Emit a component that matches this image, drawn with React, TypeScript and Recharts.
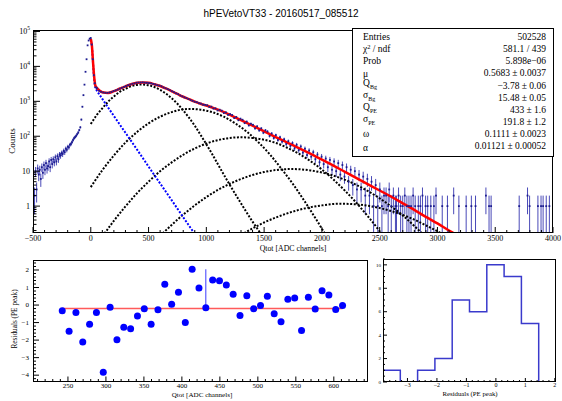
import React from 'react';
import { ComposedChart, Line, Scatter, XAxis, YAxis, ErrorBar } from 'recharts';

const SERIF = "'Liberation Serif', 'Times New Roman', serif";
const SANS = "'Liberation Sans', Arial, sans-serif";
const TITLE = 'hPEVetoVT33 - 20160517_085512';

// ---------- top panel: Qtot histogram (bin width 9) ----------
const HIST_LOW_START = -495.5;
const HIST_LOW_STEP = 9;
const histLowCounts = [
  9, 2, 10, 3, 12, 8, 11, 6, 13, 9,
  15, 11, 17, 12, 14, 19, 13, 21, 16, 22,
  18, 25, 19, 27, 22, 30, 28, 33, 31, 38,
  35, 44, 41, 50, 48, 57, 60, 68, 78, 88,
  95, 103, 115, 128, 150, 180, 300, 700, 1500, 3000,
  7000, 16000, 40000, 55000, 62000, 65000, 42000, 16000, 5600, 3300,
  2500,
];
const HIST_MID_START = 53.5;
const HIST_MID_STEP = 18;
const histMidCounts = [
  2380, 2010, 1880, 1790, 1760, 1750, 1790, 1850, 1970, 2060,
  2170, 2310, 2440, 2600, 2730, 2900, 3010, 3180, 3230, 3400,
  3450, 3460, 3490, 3420, 3400, 3330, 3260, 3150, 3040, 2900,
  2830, 2700, 2490, 2360, 2230, 2100, 1940, 1830, 1690, 1600,
  1470, 1390, 1300, 1240, 1160, 1090, 1030, 970, 945, 880,
  860, 800, 790, 770, 690, 705, 620, 628, 548, 575,
  540, 462, 482, 410, 430, 405, 332, 356, 288, 318,
  296, 238, 262, 205, 228, 212, 168, 192, 147, 168,
  126, 148, 136, 102, 120, 89, 108, 78, 94, 70,
  82, 60, 72, 53, 64, 45, 57, 40, 51, 34,
  44, 29, 39, 26, 35, 22, 30, 18, 26, 16,
  23, 13, 21, 11, 19, 10, 17, 8, 15, 7,
  13, 5, 11, 4, 10, 3, 8, 3, 7, 2,
  6, 2, 5, 1, 4, 1, 3, 1, 2,
];
const histTailX = [
  2555.5, 2573.5, 2582.5, 2600.5, 2618.5, 2636.5, 2645.5, 2663.5, 2681.5, 2699.5,
  2717.5, 2735.5, 2753.5, 2771.5, 2789.5, 2807.5, 2834.5, 2852.5, 2870.5, 2897.5,
  2915.5, 2942.5, 2969.5, 2987.5, 3041.5, 3086.5, 3140.5, 3185.5, 3248.5, 3293.5,
  3329.5, 3419.5, 3446.5, 3464.5, 3707.5, 3779.5, 3797.5, 3869.5, 3896.5, 3914.5,
  3941.5, 3968.5,
];
const histTailCounts = [
  2, 1, 3, 1, 2, 1, 1, 2, 1, 1,
  2, 1, 1, 1, 2, 1, 1, 1, 2, 1,
  1, 1, 1, 2, 1, 1, 2, 1, 1, 1,
  1, 2, 1, 1, 1, 2, 1, 1, 1, 1,
  1, 1,
];

// total fit (red)
const fitX = [0, 10, 20, 30, 40, 50, 75, 100, 150, 200, 250, 300, 350, 400, 450, 500, 550, 600, 650, 700,
  750, 800, 850, 900, 950, 1000, 1100, 1200, 1300, 1400, 1500, 1600, 1700, 1800, 1900, 2000, 2100, 2200,
  2300, 2400, 2500, 2600, 2700, 2800, 2900, 3000, 3100, 3200];
const fitY = [61700, 38000, 12500, 4800, 2800, 2490, 2050, 1820, 1740, 1950, 2290, 2690, 3090, 3390, 3470,
  3390, 3090, 2750, 2340, 1950, 1620, 1350, 1150, 980, 850, 760, 575, 417, 288, 200, 138, 95, 66, 46,
  31.6, 21.4, 14.5, 9.5, 6.3, 4.2, 2.8, 1.86, 1.2, 0.78, 0.49, 0.32, 0.2, 0.13];

// background (blue dotted)
const bgX = [0, 10, 20, 30, 40, 50, 100, 200, 300, 400, 500, 600, 700, 800, 900];
const bgY = [58900, 36500, 11500, 4000, 2400, 2090, 1175, 380, 126, 41.7, 13.5, 4.47, 1.48, 0.48, 0.16];

// n-photoelectron components (black dotted)
const pe1X = [0, 50, 100, 150, 200, 250, 300, 350, 433, 500, 550, 600, 650, 700, 750, 800, 850, 900, 950,
  1000, 1050, 1100, 1150, 1200, 1300, 1400, 1500];
const pe1Y = [224, 398, 631, 977, 1380, 1860, 2290, 2690, 3020, 2880, 2570, 2140, 1660, 1230, 851, 550,
  339, 200, 110, 59, 31, 15.8, 8.1, 4.2, 1.2, 0.36, 0.12];
const pe2X = [0, 100, 200, 300, 400, 500, 600, 700, 800, 866, 950, 1050, 1150, 1250, 1350, 1450, 1550,
  1650, 1750, 1850, 1950, 2050];
const pe2Y = [3.5, 10.7, 28.2, 66, 132, 234, 363, 490, 589, 603, 575, 490, 363, 234, 135, 67.6, 30.2,
  11.7, 4.27, 1.38, 0.42, 0.12];
const pe3X = [100, 200, 300, 400, 500, 600, 700, 800, 900, 1000, 1100, 1200, 1300, 1400, 1500, 1600,
  1700, 1800, 1900, 2000, 2100, 2200, 2300, 2400, 2500, 2550];
const pe3Y = [0.135, 0.38, 0.98, 2.34, 5.0, 10, 17.8, 29.5, 44.7, 61.7, 77.6, 89.1, 93.3, 89.1, 79.4,
  64.6, 46.8, 31.6, 19.5, 11.2, 5.75, 2.75, 1.23, 0.5, 0.19, 0.11];
const pe4X = [600, 700, 800, 900, 1000, 1100, 1200, 1300, 1400, 1500, 1600, 1732, 1800, 1900, 2000,
  2100, 2200, 2300, 2400, 2500, 2600, 2700, 2800, 2900];
const pe4Y = [0.14, 0.29, 0.57, 1.05, 1.81, 2.9, 4.3, 5.96, 7.78, 9.45, 10.76, 11.5, 11.35, 10.5, 9.16,
  7.44, 5.66, 4.02, 2.68, 1.67, 0.98, 0.54, 0.27, 0.13];
const pe5X = [1300, 1400, 1500, 1600, 1700, 1800, 1900, 2000, 2100, 2165, 2300, 2400, 2500, 2600, 2700,
  2800, 2900, 3000, 3100];
const pe5Y = [0.148, 0.23, 0.34, 0.47, 0.62, 0.78, 0.93, 1.05, 1.15, 1.17, 1.12, 1.02, 0.88, 0.72, 0.56,
  0.41, 0.28, 0.19, 0.12];

// ---------- bottom-left: residuals ----------
const resX = [242.5, 251.5, 260.5, 269.5, 278.5, 287.5, 296.5, 305.5, 314.5, 323.5, 332.5, 341.5, 350.5,
  359.5, 368.5, 377.5, 386.5, 395.5, 404.5, 413.5, 422.5, 431.5, 440.5, 449.5, 458.5, 467.5, 476.5,
  485.5, 494.5, 503.5, 512.5, 521.5, 530.5, 539.5, 548.5, 557.5, 566.5, 575.5, 584.5, 593.5, 602.5, 611.5];
const resY = [-0.33, -1.49, -0.42, -2.11, -1.09, -0.42, -3.83, -0.13, -1.98, -1.27, -1.35, -0.63, -0.21,
  -1.09, -0.27, 1.18, 0.04, 0.73, -0.99, 2.04, 0.97, -0.15, 1.43, 1.39, 1.14, 0.61, -0.59, 0.53, -0.21,
  -0.02, 0.5, -0.5, -0.95, 0.33, 0.4, -1.45, 0.44, -0.23, 0.82, 0.57, -0.25, -0.02];
const resErrUp = [0, 0, 0, 0, 0, 0, 0, 0, 0, 0, 0, 0, 0, 0, 0, 0, 0, 0, 0, 0, 0, 2.19, 0, 0, 0, 0, 0, 0,
  0, 0, 0, 0, 0, 0, 0, 0, 0, 0, 0, 0, 0, 0];
const resFitX = [242.5, 611.5];
const resFitY = [-0.19, -0.19];

// ---------- bottom-right: residual distribution ----------
const resHistMin = -3.83;
const resHistMax = 2.04;
const resHistCounts = [1, 0, 1, 2, 7, 6, 10, 9, 5, 0];

// ---------- stats box ----------
const statsValues = ['502528', '581.1 / 439', '5.898e\u221206', '0.5683 \u00b1 0.0037', '\u22123.78 \u00b1 0.06',
  '15.48 \u00b1 0.05', '433 \u00b1 1.6', '191.8 \u00b1 1.2', '0.1111 \u00b1 0.0023', '0.01121 \u00b1 0.00052'];

// ---------- derived tables ----------
const Y_MIN = 0.17;
const histData: any[] = [];
histLowCounts.forEach((c, i) => histData.push({ x: HIST_LOW_START + i * HIST_LOW_STEP, c }));
histMidCounts.forEach((c, i) => histData.push({ x: HIST_MID_START + i * HIST_MID_STEP, c }));
histTailX.forEach((x, i) => histData.push({ x, c: histTailCounts[i] }));
histData.forEach((d) => {
  const s = Math.sqrt(d.c);
  const lo = Math.max(d.c - s, Y_MIN);
  d.y = d.c;
  d.err = [d.c - lo, s];
});

const zip = (xs: number[], ys: number[]) => xs.map((x, i) => ({ x, y: ys[i] }));
const fitData = zip(fitX, fitY);
const bgData = zip(bgX, bgY);
const peData = [zip(pe1X, pe1Y), zip(pe2X, pe2Y), zip(pe3X, pe3Y), zip(pe4X, pe4Y), zip(pe5X, pe5Y)];
const resData = resX.map((x, i) => ({ x, y: resY[i], err: [0, resErrUp[i]] }));
const resFitData = zip(resFitX, resFitY);
const binW = (resHistMax - resHistMin) / resHistCounts.length;
const resHistData = resHistCounts.map((c, i) => ({ x: resHistMin + i * binW, y: c }));
resHistData.push({ x: resHistMax, y: 0 });

const range = (a: number, b: number, s: number) => {
  const out: number[] = [];
  for (let v = a; v <= b + 1e-9; v += s) out.push(Math.round(v * 1000) / 1000);
  return out;
};
const topXTicks = range(-500, 4000, 100);
const topYTicks: number[] = [];
for (let d = -1; d <= 5; d++) for (let m = 1; m <= 9; m++) {
  const v = m * Math.pow(10, d);
  if (v >= Y_MIN && v <= 110000) topYTicks.push(Number(v.toPrecision(3)));
}
const blXTicks = range(210, 640, 10);
const blYTicks = range(-4.2, 2.4, 0.2);
const brXTicks = range(-3.8, 2.0, 0.2);
const brYTicks = range(0, 10.5, 0.5);

const fmt = (v: number) => (v < 0 ? '\u2212' + Math.abs(v) : String(v));
const near = (v: number, s: number) => Math.abs(v / s - Math.round(v / s)) < 1e-6;

const xTick = (step: number, maj: number, min: number, fs: number, dy: number) => (p: any) => {
  const v = p.payload.value;
  const isMaj = near(v, step);
  return (
    <g>
      <line x1={p.x} x2={p.x} y1={p.y} y2={p.y - (isMaj ? maj : min)} stroke="#000" strokeWidth={1} />
      {isMaj && (
        <text x={p.x} y={p.y + dy} textAnchor="middle" fontSize={fs} fontFamily={SERIF} fill="#000">
          {fmt(Math.round(v))}
        </text>
      )}
    </g>
  );
};
const yTick = (step: number, maj: number, min: number, fs: number, dx: number) => (p: any) => {
  const v = p.payload.value;
  const isMaj = near(v, step);
  return (
    <g>
      <line x1={p.x} x2={p.x + (isMaj ? maj : min)} y1={p.y} y2={p.y} stroke="#000" strokeWidth={1} />
      {isMaj && (
        <text x={p.x - dx} y={p.y + fs * 0.33} textAnchor="end" fontSize={fs} fontFamily={SERIF} fill="#000">
          {fmt(Math.round(v))}
        </text>
      )}
    </g>
  );
};
const logTick = (p: any) => {
  const v = p.payload.value;
  const lg = Math.log10(v);
  const isMaj = Math.abs(lg - Math.round(lg)) < 1e-6;
  const e = Math.round(lg);
  return (
    <g>
      <line x1={p.x} x2={p.x + (isMaj ? 7 : 3.5)} y1={p.y} y2={p.y} stroke="#000" strokeWidth={1} />
      {isMaj && (
        <text x={p.x - 3} y={p.y + 2.8} textAnchor="end" fontSize={8} fontFamily={SERIF} fill="#000">
          {e === 0 ? '1' : '10'}
          {e > 1 && (
            <tspan dy={-4} fontSize={5.5}>
              {e}
            </tspan>
          )}
        </text>
      )}
    </g>
  );
};

const histMarker = (p: any) => <rect x={p.cx - 0.9} y={p.cy - 0.9} width={1.8} height={1.8} fill="#1c1c90" />;
const resMarker = (p: any) => <circle cx={p.cx} cy={p.cy} r={3.5} fill="#0000ff" />;

const statsLabel = (i: number) => {
  switch (i) {
    case 0: return <>Entries</>;
    case 1: return <>{'\u03c7'}<tspan dy={-3.5} fontSize={6.5}>2</tspan><tspan dy={3.5}>{' / ndf'}</tspan></>;
    case 2: return <>Prob</>;
    case 3: return <>{'\u03bc'}</>;
    case 4: return <>Q<tspan dy={3} fontSize={6}>Bg</tspan></>;
    case 5: return <>{'\u03c3'}<tspan dy={3} fontSize={6}>Bg</tspan></>;
    case 6: return <>Q<tspan dy={3} fontSize={6}>PE</tspan></>;
    case 7: return <>{'\u03c3'}<tspan dy={3} fontSize={6}>PE</tspan></>;
    case 8: return <>{'\u03c9'}</>;
    default: return <>{'\u03b1'}</>;
  }
};
const labelShift = [0, 0, 0, 1, -2.5, -2.5, -2.5, -2.5, 0, 2];

export default function App() {
  const dotted = { strokeWidth: 2, strokeDasharray: '2 1.6', dot: false, isAnimationActive: false } as any;
  return (
    <div style={{ position: 'absolute', left: 0, top: 0, width: 562, height: 401, background: '#fff', overflow: 'hidden' }}>
      <div style={{ position: 'absolute', left: 0, top: 0 }}>
        <ComposedChart width={562} height={255} margin={{ top: 30, right: 9, bottom: 0, left: 0 }}>
          <XAxis type="number" dataKey="x" domain={[-500, 4000]} allowDataOverflow ticks={topXTicks} interval={0}
            tickSize={0} tickMargin={0} axisLine={false} tickLine={false} height={22} tick={xTick(500, 6, 3, 8, 8.3)} />
          <YAxis type="number" dataKey="y" scale="log" domain={[Y_MIN, 110000]} allowDataOverflow ticks={topYTicks}
            interval={0} tickSize={0} tickMargin={0} axisLine={false} tickLine={false} width={33} tick={logTick} />
          <Scatter data={histData} dataKey="y" shape={histMarker} isAnimationActive={false}>
            <ErrorBar dataKey="err" direction="y" width={0} stroke="#4a4ab8" strokeWidth={1} isAnimationActive={false} />
          </Scatter>
          {peData.map((d, i) => (
            <Line key={i} data={d} dataKey="y" type="monotone" stroke="#000" {...dotted} />
          ))}
          <Line data={bgData} dataKey="y" type="monotone" stroke="#0000ff" {...dotted} />
          <Line data={fitData} dataKey="y" type="monotone" stroke="#ff0000" strokeWidth={2.5} dot={false} isAnimationActive={false} />
        </ComposedChart>
      </div>

      <div style={{ position: 'absolute', left: 0, top: 255 }}>
        <ComposedChart width={372} height={146} margin={{ top: 5, right: 4, bottom: 0, left: 0 }}>
          <XAxis type="number" dataKey="x" domain={[204, 645]} allowDataOverflow ticks={blXTicks} interval={0}
            tickSize={0} tickMargin={0} axisLine={false} tickLine={false} height={19} tick={xTick(50, 5.5, 3, 7, 6)} />
          <YAxis type="number" dataKey="y" domain={[-4.39, 2.57]} allowDataOverflow ticks={blYTicks} interval={0}
            tickSize={0} tickMargin={0} axisLine={false} tickLine={false} width={33} tick={yTick(1, 6, 3, 7, 4)} />
          <Line data={resFitData} dataKey="y" stroke="#ff5a5a" strokeWidth={1.5} dot={false} isAnimationActive={false} />
          <Scatter data={resData} dataKey="y" shape={resMarker} isAnimationActive={false}>
            <ErrorBar dataKey="err" direction="y" width={0} stroke="#3b3bff" strokeWidth={1} isAnimationActive={false} />
          </Scatter>
        </ComposedChart>
      </div>

      <div style={{ position: 'absolute', left: 372, top: 255 }}>
        <ComposedChart width={190} height={146} margin={{ top: 4, right: 6, bottom: 0, left: 0 }}>
          <XAxis type="number" dataKey="x" domain={[resHistMin, resHistMax]} allowDataOverflow ticks={brXTicks} interval={0}
            tickSize={0} tickMargin={0} axisLine={false} tickLine={false} height={19} tick={xTick(1, 4, 2, 6, 5.3)} />
          <YAxis type="number" dataKey="y" domain={[0, 10.5]} allowDataOverflow ticks={brYTicks} interval={0}
            tickSize={0} tickMargin={0} axisLine={false} tickLine={false} width={11} tick={yTick(2, 4, 2, 5, 2)} />
          <Line data={resHistData} dataKey="y" type="stepAfter" stroke="#3a3acc" strokeWidth={1.5} dot={false} isAnimationActive={false} />
        </ComposedChart>
      </div>

      <svg width={562} height={401} style={{ position: 'absolute', left: 0, top: 0, pointerEvents: 'none' }}>
        <text x={281} y={17} textAnchor="middle" fontFamily={SANS} fontSize={10} fill="#000">{TITLE}</text>
        <rect x={33.5} y={30.5} width={519} height={202} fill="none" stroke="#000" strokeWidth={1} />
        <rect x={33.5} y={260.5} width={334} height={121} fill="none" stroke="#000" strokeWidth={1} />
        <rect x={383.5} y={259.5} width={172} height={122} fill="none" stroke="#000" strokeWidth={1} />

        <text transform="rotate(-90 15 141)" x={15} y={141} textAnchor="middle" fontFamily={SERIF} fontSize={9}>Counts</text>
        <text x={293} y={250.5} textAnchor="middle" fontFamily={SERIF} fontSize={7.8}>Qtot [ADC channels]</text>
        <text transform="rotate(-90 17 319)" x={17} y={319} textAnchor="middle" fontFamily={SERIF} fontSize={7.3}>Residuals (PE peak)</text>
        <text x={202} y={397} textAnchor="middle" fontFamily={SERIF} fontSize={7.1}>Qtot [ADC channels]</text>
        <text x={470} y={396} textAnchor="middle" fontFamily={SERIF} fontSize={6.8}>Residuals (PE peak)</text>

        <rect x={352.5} y={28.5} width={201} height={128} fill="#fff" stroke="#000" strokeWidth={1} />
        {statsValues.map((v, i) => {
          const cy = 37 + i * 12.1;
          return (
            <g key={i} fontFamily={SERIF} fontSize={9.5} fill="#000">
              <text x={363} y={cy + 3.1 + labelShift[i]}>{statsLabel(i)}</text>
              <text x={546} y={cy + 3.1} textAnchor="end">{v}</text>
            </g>
          );
        })}
      </svg>
    </div>
  );
}
